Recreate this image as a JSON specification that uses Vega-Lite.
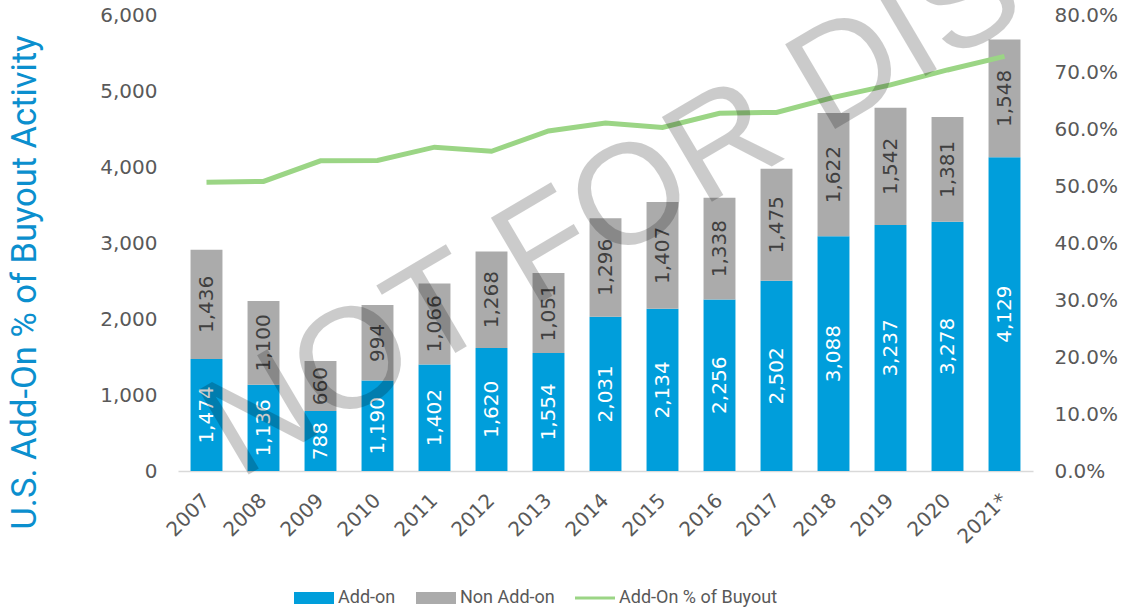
{
  "$schema": "https://vega.github.io/schema/vega-lite/v6.json",
  "width": 855,
  "height": 456,
  "autosize": {"type": "none"},
  "padding": {"left": 178, "top": 15, "right": 89, "bottom": 136},
  "background": "white",
  "config": {
    "view": {"stroke": null},
    "axis": {"grid": false, "ticks": false, "domain": false, "labelColor": "#595959", "labelFont": "DejaVu Sans", "labelFontSize": 20}
  },
  "datasets": {
    "bars": [
      {"year": "2007", "series": "Add-on", "value": 1474}, {"year": "2007", "series": "Non Add-on", "value": 1436},
      {"year": "2008", "series": "Add-on", "value": 1136}, {"year": "2008", "series": "Non Add-on", "value": 1100},
      {"year": "2009", "series": "Add-on", "value": 788}, {"year": "2009", "series": "Non Add-on", "value": 660},
      {"year": "2010", "series": "Add-on", "value": 1190}, {"year": "2010", "series": "Non Add-on", "value": 994},
      {"year": "2011", "series": "Add-on", "value": 1402}, {"year": "2011", "series": "Non Add-on", "value": 1066},
      {"year": "2012", "series": "Add-on", "value": 1620}, {"year": "2012", "series": "Non Add-on", "value": 1268},
      {"year": "2013", "series": "Add-on", "value": 1554}, {"year": "2013", "series": "Non Add-on", "value": 1051},
      {"year": "2014", "series": "Add-on", "value": 2031}, {"year": "2014", "series": "Non Add-on", "value": 1296},
      {"year": "2015", "series": "Add-on", "value": 2134}, {"year": "2015", "series": "Non Add-on", "value": 1407},
      {"year": "2016", "series": "Add-on", "value": 2256}, {"year": "2016", "series": "Non Add-on", "value": 1338},
      {"year": "2017", "series": "Add-on", "value": 2502}, {"year": "2017", "series": "Non Add-on", "value": 1475},
      {"year": "2018", "series": "Add-on", "value": 3088}, {"year": "2018", "series": "Non Add-on", "value": 1622},
      {"year": "2019", "series": "Add-on", "value": 3237}, {"year": "2019", "series": "Non Add-on", "value": 1542},
      {"year": "2020", "series": "Add-on", "value": 3278}, {"year": "2020", "series": "Non Add-on", "value": 1381},
      {"year": "2021*", "series": "Add-on", "value": 4129}, {"year": "2021*", "series": "Non Add-on", "value": 1548}
    ],
    "pct": [
      {"year": "2007", "pct": 0.5065}, {"year": "2008", "pct": 0.5081}, {"year": "2009", "pct": 0.5442},
      {"year": "2010", "pct": 0.5449}, {"year": "2011", "pct": 0.5681}, {"year": "2012", "pct": 0.5609},
      {"year": "2013", "pct": 0.5965}, {"year": "2014", "pct": 0.6105}, {"year": "2015", "pct": 0.6027},
      {"year": "2016", "pct": 0.6277}, {"year": "2017", "pct": 0.6291}, {"year": "2018", "pct": 0.6556},
      {"year": "2019", "pct": 0.6773}, {"year": "2020", "pct": 0.7036}, {"year": "2021*", "pct": 0.7273}
    ],
    "wm": [{"t": "NOT FOR DISTRIBUTION"}]
  },
  "layer": [
    {
      "data": {"name": "bars"},
      "layer": [
        {
          "mark": {"type": "bar"},
          "encoding": {
            "x": {
              "field": "year", "type": "ordinal", "sort": null,
              "scale": {"paddingInner": 0.44, "paddingOuter": 0.22},
              "axis": {"title": null, "labelAngle": -45, "labelAlign": "right", "labelBaseline": "middle", "labelPadding": 26, "domain": true, "domainColor": "#d9d9d9", "domainWidth": 1.5}
            },
            "y": {
              "field": "value", "type": "quantitative", "stack": "zero",
              "scale": {"domain": [0, 6000], "nice": false},
              "axis": {
                "title": "U.S. Add-On % of Buyout Activity", "titleColor": "#0b8fce", "titleFont": "Roboto", "titleFontSize": 34.5, "titleFontWeight": "normal",
                "titleAngle": 270, "titleAlign": "center", "titleBaseline": "middle", "titleX": -153, "titleY": 267,
                "values": [0, 1000, 2000, 3000, 4000, 5000, 6000], "labelExpr": "format(datum.value, ',')", "labelPadding": 21
              }
            },
            "color": {
              "field": "series", "type": "nominal",
              "scale": {"domain": ["Add-on", "Non Add-on", "Add-On % of Buyout"], "range": ["#009edb", "#ababab", "#9bd585"]},
              "legend": {
                "orient": "none", "legendX": 116, "legendY": 563, "direction": "horizontal", "title": null,
                "labelFont": "Roboto", "labelFontSize": 18, "labelColor": "#595959", "labelOffset": 4,
                "symbolType": "M-1,-0.3H1V0.3H-1Z", "symbolSize": 1600, "symbolStrokeWidth": 0, "columnPadding": 20,
                "encode": {"symbols": {"update": {"shape": {"signal": "datum.value === 'Add-On % of Buyout' ? 'M-1,-0.08H1V0.08H-1Z' : 'M-1,-0.3H1V0.3H-1Z'"}}}}
              }
            },
            "order": {"field": "series", "sort": "ascending"}
          }
        },
        {
          "transform": [
            {"stack": "value", "groupby": ["year"], "sort": [{"field": "series", "order": "ascending"}], "as": ["v0", "v1"]},
            {"calculate": "(datum.v0 + datum.v1) / 2", "as": "mid"}
          ],
          "mark": {"type": "text", "angle": 270, "font": "DejaVu Sans", "fontSize": 20, "align": "center", "baseline": "middle"},
          "encoding": {
            "x": {"field": "year", "type": "ordinal", "sort": null},
            "y": {"field": "mid", "type": "quantitative"},
            "text": {"field": "value", "type": "quantitative", "format": ","},
            "color": {"condition": {"test": "datum.series === 'Add-on'", "value": "#ffffff"}, "value": "#404040"}
          }
        }
      ]
    },
    {
      "data": {"name": "pct"},
      "mark": {"type": "line", "strokeWidth": 5, "color": "#9bd585"},
      "encoding": {
        "x": {"field": "year", "type": "ordinal", "sort": null},
        "y": {
          "field": "pct", "type": "quantitative",
          "scale": {"domain": [0, 0.8], "nice": false},
          "axis": {"orient": "right", "title": null, "format": ".1%", "values": [0, 0.1, 0.2, 0.3, 0.4, 0.5, 0.6, 0.7, 0.8], "labelPadding": 21}
        }
      }
    },
    {
      "data": {"name": "wm"},
      "mark": {"type": "text", "font": "Liberation Sans", "fontSize": 143, "angle": -30.5, "align": "left", "baseline": "alphabetic", "color": "#000000", "opacity": 0.2},
      "encoding": {
        "x": {"datum": "2008", "type": "ordinal", "bandPosition": -0.28},
        "y": {"datum": -125, "type": "quantitative", "scale": {"domain": [0, 6000], "nice": false}, "axis": null},
        "text": {"field": "t"}
      }
    }
  ],
  "resolve": {"scale": {"y": "independent"}}
}
